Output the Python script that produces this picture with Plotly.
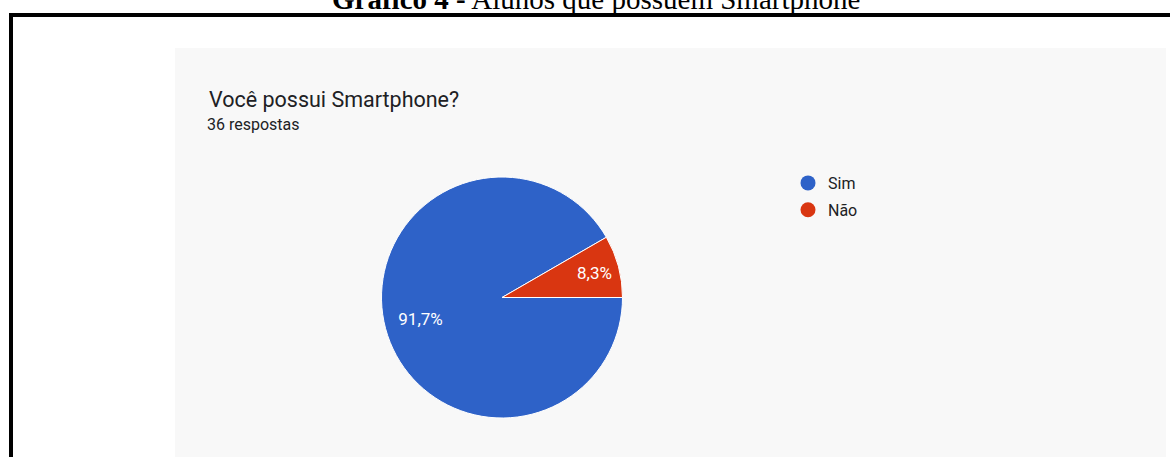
import plotly.graph_objects as go

# ---- data ----
categories = ["Sim", "Não"]
values = [33, 3]
colors = ["#2E62C8", "#D93611"]
chart_title = "Você possui Smartphone?"
subtitle = "36 respostas"
caption_bold = "Gráfico 4 -"
caption_rest = "Alunos que possuem Smartphone"

W, H = 1170, 457


def px(x):
    return x / W


def py(y):
    return 1 - y / H


pie_domain = dict(x=[px(381.5), px(622.5)], y=[py(418), py(177)])

fig = go.Figure()
# coloured slices
fig.add_trace(go.Pie(
    labels=categories, values=values, sort=False,
    direction="clockwise", rotation=90,
    marker=dict(colors=colors, line=dict(color="white", width=1)),
    textinfo="none", domain=pie_domain,
    showlegend=False, hoverinfo="label+percent",
))
# percentage labels (transparent ring so labels sit further out)
fig.add_trace(go.Pie(
    labels=categories, values=values, sort=False,
    direction="clockwise", rotation=90, hole=0.4,
    marker=dict(colors=["rgba(0,0,0,0)"] * len(values), line=dict(width=0)),
    texttemplate="%{percent:.1%}", textposition="inside",
    insidetextorientation="horizontal",
    textfont=dict(family="Roboto", size=17, color="white"),
    domain=pie_domain, showlegend=False, hoverinfo="skip",
))
for cat, col in zip(categories, colors):
    fig.add_trace(go.Scatter(
        x=[None], y=[None], mode="markers", name=cat, legendgroup=cat,
        marker=dict(symbol="circle", size=15, color=col),
    ))

shapes = [
    dict(type="rect", xref="paper", yref="paper", x0=px(175), x1=px(1166),
         y0=-0.05, y1=py(48), fillcolor="#f8f8f8", line=dict(width=0), layer="below"),
    dict(type="line", xref="paper", yref="paper", x0=px(11), x1=px(11),
         y0=-0.05, y1=py(13), line=dict(color="black", width=4)),
    dict(type="line", xref="paper", yref="paper", x0=px(9), x1=1.0,
         y0=py(15), y1=py(15), line=dict(color="black", width=4)),
]

annotations = [
    dict(text=f"<b>{caption_bold}</b> {caption_rest}", xref="paper", yref="paper",
         x=px(596), y=py(17), xanchor="center", yanchor="bottom", showarrow=False,
         font=dict(family="Liberation Serif", size=29, color="black")),
    dict(text=chart_title, xref="paper", yref="paper", x=px(207), y=py(99),
         xanchor="left", yanchor="middle", showarrow=False,
         font=dict(family="Roboto", size=21.5, color="#202124")),
    dict(text=subtitle, xref="paper", yref="paper", x=px(205), y=py(125),
         xanchor="left", yanchor="middle", showarrow=False,
         font=dict(family="Roboto", size=16, color="#202124")),
]

fig.update_layout(
    width=W, height=H, margin=dict(l=0, r=0, t=0, b=0),
    paper_bgcolor="#ffffff", plot_bgcolor="rgba(0,0,0,0)",
    separators=",.",
    xaxis=dict(visible=False), yaxis=dict(visible=False),
    shapes=shapes, annotations=annotations,
    legend=dict(x=px(788), y=py(166), xanchor="left", yanchor="top",
                font=dict(family="Roboto", size=16, color="#202124"),
                itemsizing="trace", traceorder="grouped", tracegroupgap=3,
                bgcolor="rgba(0,0,0,0)"),
)

fig.write_html("out.html", config={"displayModeBar": False})
